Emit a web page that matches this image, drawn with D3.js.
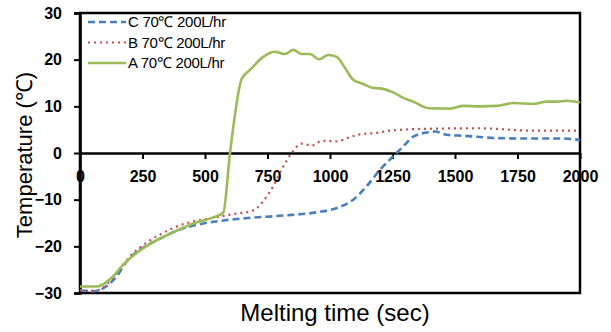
<!DOCTYPE html>
<html>
<head>
<meta charset="utf-8">
<script src="https://cdn.jsdelivr.net/npm/d3@7"></script>
<style>
  body { margin: 0; background: #fff; }
  svg { font-family: "Liberation Sans", Arial, sans-serif; }
</style>
</head>
<body>
<svg id="chart" width="611" height="332"></svg>
<script>
// melting time (sec) and temperature (℃)
const timeC = [0, 53, 107, 147, 187, 240, 307, 400, 493, 600, 680, 813, 947, 1027, 1093, 1147, 1200, 1253, 1293, 1333, 1400, 1420, 1467, 1533, 1667, 1800, 1933, 2000];
const tempC = [-29.4, -29.6, -28.5, -26.4, -23.2, -20.7, -18.7, -16.4, -15.1, -14.3, -13.9, -13.4, -12.7, -11.8, -10.0, -7.1, -3.6, -0.7, 1.4, 3.5, 4.5, 4.6, 3.9, 3.7, 3.2, 3.1, 3.1, 2.8];

const timeB = [0, 53, 93, 133, 173, 213, 267, 333, 400, 467, 533, 600, 693, 733, 773, 813, 847, 887, 927, 967, 1027, 1080, 1120, 1187, 1240, 1400, 1600, 1800, 2000];
const tempB = [-29.4, -29.6, -28.8, -26.7, -23.9, -21.5, -19.2, -17.1, -15.5, -14.5, -13.9, -13.2, -12.3, -10.3, -7.1, -2.9, 0.0, 2.0, 1.6, 2.6, 2.5, 3.4, 4.0, 4.3, 4.8, 5.2, 5.3, 4.8, 4.8];

const timeA = [0, 67, 133, 173, 227, 293, 373, 453, 533, 573, 600, 647, 680, 733, 780, 820, 853, 887, 920, 957, 993, 1027, 1060, 1093, 1133, 1167, 1207, 1253, 1293, 1333, 1393, 1480, 1533, 1600, 1667, 1733, 1813, 1867, 1907, 1947, 2000];
const tempA = [-28.6, -28.6, -26.4, -23.9, -21.4, -19.1, -17.0, -15.1, -13.8, -12.8, 0.0, 15.9, 17.8, 20.6, 21.7, 21.2, 22.1, 21.2, 21.2, 20.1, 21.0, 20.6, 18.2, 15.7, 14.8, 14.0, 13.8, 13.0, 11.8, 11.0, 9.6, 9.5, 10.1, 10.0, 10.1, 10.7, 10.5, 11.0, 11.0, 11.2, 10.8];

const seriesNames = ["C 70℃ 200L/hr", "B 70℃ 200L/hr", "A 70℃ 200L/hr"];
const xTicks = [0, 250, 500, 750, 1000, 1250, 1500, 1750, 2000];
const yTicks = [-30, -20, -10, 0, 10, 20, 30];

const series = [
  {name: seriesNames[0], t: timeC, v: tempC, color: "#4a7ebb", width: 2.6, dash: "7,4"},
  {name: seriesNames[1], t: timeB, v: tempB, color: "#c0504d", width: 2.2, dash: "2,4"},
  {name: seriesNames[2], t: timeA, v: tempA, color: "#9bbb59", width: 2.6, dash: null}
];

const svg = d3.select("#chart"),
    margin = {top: 13, right: 31, bottom: 39, left: 80},
    width = +svg.attr("width") - margin.left - margin.right,
    height = +svg.attr("height") - margin.top - margin.bottom;

const x = d3.scaleLinear().domain([0, 2000]).range([0, width]),
    y = d3.scaleLinear().domain([-30, 30]).range([height, 0]);

const g = svg.append("g").attr("transform", "translate(" + margin.left + "," + margin.top + ")");

// plot frame
g.append("rect")
    .attr("width", width)
    .attr("height", height)
    .attr("fill", "none")
    .attr("stroke", "#000")
    .attr("stroke-width", 2.5);

// y axis
const yAxis = g.append("g")
    .call(d3.axisLeft(y).tickValues(yTicks).tickSize(6).tickFormat(d3.format("d")));
yAxis.select(".domain").attr("stroke-width", 2.5);
yAxis.selectAll(".tick line").attr("stroke-width", 2);
yAxis.selectAll(".tick text")
    .attr("x", -18)
    .attr("font-size", 16)
    .attr("font-weight", "bold")
    .attr("fill", "#000");

// x axis sits on the zero line
const xAxis = g.append("g")
    .attr("transform", "translate(0," + y(0) + ")")
    .call(d3.axisBottom(x).tickValues(xTicks).tickSize(6).tickSizeOuter(0).tickFormat(d3.format("d")));
xAxis.select(".domain").attr("stroke-width", 2.5);
xAxis.selectAll(".tick line").attr("stroke-width", 2);
xAxis.selectAll(".tick text")
    .attr("y", 18)
    .attr("font-size", 16)
    .attr("font-weight", "bold")
    .attr("fill", "#000");

// lines
const line = d3.line()
    .x(d => x(d[0]))
    .y(d => y(d[1]))
    .curve(d3.curveMonotoneX);

series.forEach(s => {
  g.append("path")
      .datum(d3.zip(s.t, s.v))
      .attr("fill", "none")
      .attr("stroke", s.color)
      .attr("stroke-width", s.width)
      .attr("stroke-dasharray", s.dash)
      .attr("d", line);
});

// legend
const legend = g.append("g").attr("transform", "translate(8,9)");
series.forEach((s, i) => {
  const row = legend.append("g").attr("transform", "translate(0," + (i * 20.5) + ")");
  row.append("line")
      .attr("x1", 0).attr("x2", 38)
      .attr("stroke", s.color)
      .attr("stroke-width", s.width)
      .attr("stroke-dasharray", s.dash);
  row.append("text")
      .attr("x", 40)
      .attr("dy", "0.35em")
      .attr("font-size", 15)
      .attr("letter-spacing", -0.3)
      .text(s.name);
});

// axis titles
svg.append("text")
    .attr("x", margin.left + width / 2 + 5)
    .attr("y", 321)
    .attr("text-anchor", "middle")
    .attr("font-size", 24)
    .text("Melting time (sec)");

svg.append("text")
    .attr("transform", "translate(32," + (margin.top + height / 2 + 2) + ") rotate(-90)")
    .attr("text-anchor", "middle")
    .attr("font-size", 22)
    .text("Temperature (℃)");
</script>
</body>
</html>
